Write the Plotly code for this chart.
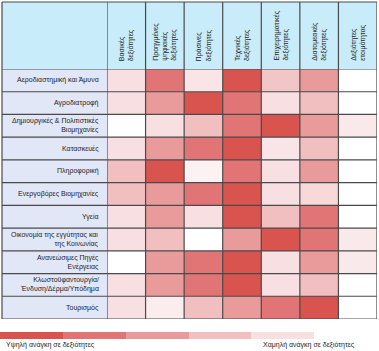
import plotly.graph_objects as go

W, H = 379, 351

skills = ["Βασικές<br>δεξιότητες", "Προηγμένες<br>ψηφιακές<br>δεξιότητες", "Πράσινες<br>δεξιότητες",
          "Τεχνικές<br>δεξιότητες", "Επιχειρηματικές<br>δεξιότητες", "Διατομεακές<br>δεξιότητες",
          "Δεξιότητες<br>ετοιμότητας"]
sectors = ["Αεροδιαστημική και Άμυνα", "Αγροδιατροφή", "Δημιουργικές & Πολιτιστικές<br>Βιομηχανίες",
           "Κατασκευές", "Πληροφορική", "Ενεργοβόρες Βιομηχανίες", "Υγεία",
           "Οικονομία της εγγύτητας και<br>της Κοινωνίας", "Ανανεώσιμες Πηγές<br>Ενέργειας",
           "Κλωστοϋφαντουργία/<br>Ένδυση/Δέρμα/Υπόδημα", "Τουρισμός"]
need = [
    [1, 4, 0.8, 5, 1.8, 3, 0],
    [1, 3, 5, 4, 1, 2, 0],
    [0, 1, 2, 4, 5, 3, 0.7],
    [1, 3, 4, 5, 0.8, 2, 0],
    [2, 5, 0.4, 4, 1, 3, 0],
    [2, 3, 4, 5, 1, 1.2, 0],
    [1, 3, 1, 5, 2, 4, 0],
    [1, 2, 0, 3, 5, 4, 0.7],
    [0, 3, 4, 5, 1, 3, 0.7],
    [1, 3, 4, 5, 1, 2, 0],
    [1, 0.6, 2, 3, 4, 5, 0],
]
legend_levels = [5, 4, 3, 2, 1, 0]
legend_low = "Χαμηλή ανάγκη σε δεξιότητες"
legend_high = "Υψηλή ανάγκη σε δεξιότητες"

colorscale = [[0.0, "#ffffff"], [0.2, "#f8dfe1"], [0.4, "#f1bfc0"],
              [0.6, "#e99a9b"], [0.8, "#e17575"], [1.0, "#d9534f"]]

def px(x):
    return x / W

def py(y):
    return 1 - y / H

FONT = "Liberation Sans"
LINE = "#4a4a4a"
x_idx = list(range(len(skills)))
y_idx = list(range(len(sectors)))

fig = go.Figure()
fig.add_trace(go.Heatmap(z=need, x=x_idx, y=y_idx, colorscale=colorscale, zmin=0, zmax=5,
                         showscale=False, hoverinfo="skip", xaxis="x", yaxis="y"))
fig.add_trace(go.Heatmap(z=[legend_levels], x=list(range(len(legend_levels))), y=[0],
                         colorscale=colorscale, zmin=0, zmax=5, showscale=False,
                         hoverinfo="skip", xaxis="x2", yaxis="y2"))

shapes = []
# header background and label column background
shapes.append(dict(type="rect", xref="paper", yref="paper", x0=px(2), x1=px(377), y0=py(69), y1=py(2),
                   fillcolor="#c8ecf9", line=dict(width=0), layer="below"))
shapes.append(dict(type="rect", xref="paper", yref="paper", x0=px(2), x1=px(107), y0=py(319), y1=py(69),
                   fillcolor="#e2e7f8", line=dict(width=0), layer="below"))
# column lines
for i in range(len(skills) + 1):
    shapes.append(dict(type="line", xref="x", yref="paper", x0=i - 0.5, x1=i - 0.5, y0=py(319), y1=py(2),
                       line=dict(color=LINE, width=1.2)))
# row lines
for j in range(len(sectors) + 1):
    shapes.append(dict(type="line", xref="paper", yref="y", x0=px(2), x1=px(377), y0=j - 0.5, y1=j - 0.5,
                       line=dict(color=LINE, width=1.2)))
shapes.append(dict(type="line", xref="paper", yref="paper", x0=px(2), x1=px(2), y0=py(319), y1=py(2),
                   line=dict(color=LINE, width=1.2)))
shapes.append(dict(type="line", xref="paper", yref="paper", x0=px(2), x1=px(377), y0=py(2), y1=py(2),
                   line=dict(color=LINE, width=1.2)))

ann = []
for i, s in enumerate(skills):
    ann.append(dict(x=i, xref="x", y=py(63), yref="paper", text=s, textangle=-90, showarrow=False,
                    xanchor="center", yanchor="bottom", align="left",
                    font=dict(family=FONT, size=7, color="#222")))
for j, s in enumerate(sectors):
    ann.append(dict(x=px(101), xref="paper", y=j, yref="y", text=s, showarrow=False,
                    xanchor="right", yanchor="middle", align="right",
                    font=dict(family=FONT, size=7, color="#222")))
ann.append(dict(x=px(4), xref="paper", y=py(345), yref="paper", text=legend_high, showarrow=False,
                xanchor="left", yanchor="middle", font=dict(family=FONT, size=7, color="#222")))
ann.append(dict(x=px(357), xref="paper", y=py(345), yref="paper", text=legend_low, showarrow=False,
                xanchor="right", yanchor="middle", font=dict(family=FONT, size=7, color="#222")))

fig.update_layout(
    width=W, height=H, margin=dict(l=0, r=0, t=0, b=0),
    paper_bgcolor="white", plot_bgcolor="white",
    xaxis=dict(domain=[px(107), px(377)], range=[-0.5, len(skills) - 0.5], visible=False, fixedrange=True),
    yaxis=dict(domain=[py(319), py(69)], range=[len(sectors) - 0.5, -0.5], visible=False, fixedrange=True),
    xaxis2=dict(domain=[px(0), px(377)], range=[-0.5, len(legend_levels) - 0.5], visible=False,
                anchor="y2", fixedrange=True),
    yaxis2=dict(domain=[py(339), py(332)], range=[-0.5, 0.5], visible=False, anchor="x2", fixedrange=True),
    shapes=shapes, annotations=ann, showlegend=False,
)
fig.write_html("out.html", config={"displayModeBar": False})
